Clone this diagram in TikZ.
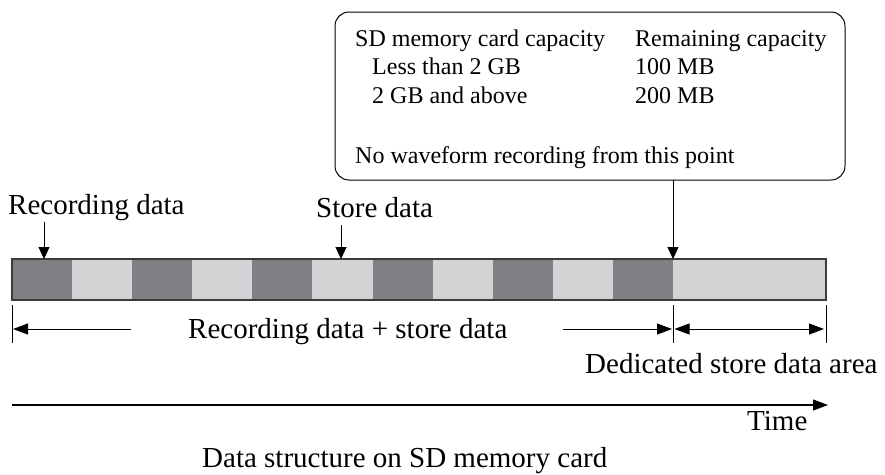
\documentclass[tikz,border=0pt]{standalone}
\usepackage{fontspec}
\setmainfont{Liberation Serif}
\usetikzlibrary{arrows.meta}
\definecolor{darkseg}{HTML}{808084}
\definecolor{lightseg}{HTML}{D2D3D5}
\definecolor{edgecol}{HTML}{3C3C3C}
\begin{document}
\begin{tikzpicture}[x=1pt,y=-1pt,
  big/.style={font=\fontsize{29}{34}\selectfont, inner sep=0pt, anchor=base west},
  small/.style={font=\fontsize{24}{28}\selectfont, inner sep=0pt, anchor=base west},
  seg/.style={minimum width=60.09pt, minimum height=41pt, inner sep=0pt, outer sep=0pt, anchor=north west},
  arr/.style={-{Triangle[length=12pt,width=11pt]}, line width=1pt},
  sarr/.style={-{Triangle[length=15pt,width=11pt]}, line width=1pt},
  darr/.style={{Triangle[length=15pt,width=11pt]}-{Triangle[length=15pt,width=11pt]}, line width=1pt},
  tickline/.style={line width=1pt},
]
\useasboundingbox (0,0) rectangle (885,474);
% bar segments
\foreach \i in {0,...,10}{
  \ifodd\i \def\segc{lightseg}\else\def\segc{darkseg}\fi
  \node[seg, fill=\segc] (s\i) at ({12+\i*60.09},259) {};
}
\node[seg, fill=lightseg, minimum width=153pt] (ded) at (673,259) {};
\node[draw=edgecol, line width=1.6pt, minimum width=814pt, minimum height=41pt, inner sep=0pt, outer sep=0pt, anchor=north west] (bar) at (12,259) {};
% info box
\node[draw, rounded corners=14pt, line width=1pt, minimum width=510pt, minimum height=168pt, inner sep=0pt, outer sep=0pt, anchor=north west] (box) at (335,12) {};
\node[small] (h1) at (355,46) {SD memory card capacity};
\node[small] (h2) at (635,46) {Remaining capacity};
\node[small] (r1a) at (372,74) {Less than 2 GB};
\node[small] (r1b) at (635,74) {100 MB};
\node[small] (r2a) at (372,103) {2 GB and above};
\node[small] (r2b) at (635,103) {200 MB};
\node[small] (nw) at (355,163) {No waveform recording from this point};
% labels
\node[big] (rd) at (8,214) {Recording data};
\node[big] (sd) at (316,217) {Store data};
\node[big] (rs) at (188,338) {Recording data + store data};
\node[big] (da) at (585,373) {Dedicated store data area};
\node[big] (tm) at (747,430) {Time};
\node[big] (cap) at (202,467) {Data structure on SD memory card};
% pointer arrows
\coordinate (rdtop) at (44,222);
\draw[arr] (rdtop) -- (rdtop |- bar.north);
\coordinate (sdtop) at (341,225);
\draw[arr] (sdtop) -- (sdtop |- bar.north);
\draw[arr] (box.south -| ded.west) -- (ded.north west);
% ticks
\draw[tickline] ([yshift=-5pt]bar.south west) coordinate (t1) -- ++(0,38);
\draw[tickline] ([yshift=-5pt]ded.south west) coordinate (t2) -- ++(0,38);
\draw[tickline] ([yshift=-5pt]bar.south east) coordinate (t3) -- ++(0,38);
% span arrows
\coordinate (la) at (131,329);
\coordinate (ra) at (563,329);
\draw[sarr, shorten >=1pt] (la) -- (la -| t1);
\draw[sarr, shorten >=1pt] (ra) -- (ra -| t2);
\draw[darr, shorten <=1.5pt, shorten >=2pt] (ra -| t2) -- (ra -| t3);
% time axis
\coordinate (ts) at (12,405);
\coordinate (te) at (828,405);
\draw[sarr, line width=1.2pt] (ts) -- (te);
\end{tikzpicture}
\end{document}
